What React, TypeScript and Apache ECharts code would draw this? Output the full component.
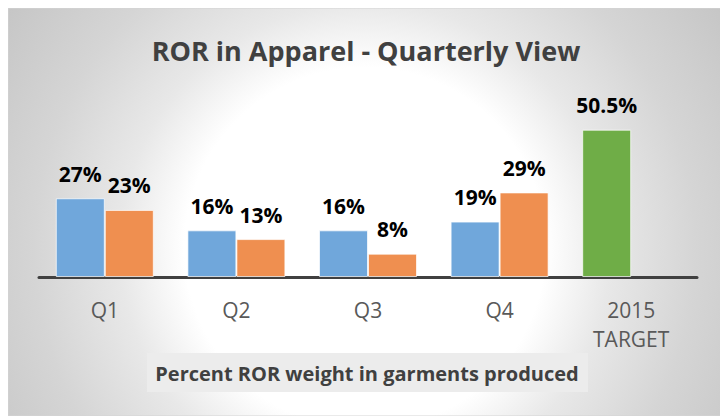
import React, { useEffect, useRef } from "react";
import * as echarts from "echarts";

const categories = ["Q1", "Q2", "Q3", "Q4", "2015\nTARGET"];
const seriesA = [27, 16, 16, 19, 50.5];
const seriesB = [23, 13, 8, 29, null];
const titleText = "ROR in Apparel - Quarterly View";
const subtitleText = "Percent ROR weight in garments produced";

const BLUE = "#70A7DB";
const ORANGE = "#EF8F50";
const GREEN = "#6FAD47";
const FONT = "'Open Sans', 'Noto Sans', sans-serif";

export default function App() {
  const ref = useRef<HTMLDivElement>(null);
  useEffect(() => {
    if (!ref.current) return;
    const chart = echarts.init(ref.current, undefined, { renderer: "svg" });
    const W = 715;
    const H = 408;
    const labelCfg = {
      show: true,
      position: "top",
      distance: 14,
      color: "#000",
      fontFamily: FONT,
      fontWeight: "bold",
      fontSize: 21,
      formatter: (p: any) => `${p.value}%`,
    };
    chart.setOption({
      animation: false,
      graphic: [
        {
          type: "rect",
          z: -10,
          silent: true,
          shape: { x: 0, y: 0, width: W, height: H },
          style: {
            fill: new echarts.graphic.RadialGradient(357, 240, 430, [
              { offset: 0, color: "#ffffff" },
              { offset: 0.42, color: "#ffffff" },
              { offset: 0.57, color: "#e8e8e8" },
              { offset: 0.77, color: "#d5d5d5" },
              { offset: 1, color: "#c6c6c6" },
            ], true),
            stroke: "#d4d4d4",
            lineWidth: 1,
          },
        },
        {
          type: "text",
          z: 10,
          x: 358,
          y: 42,
          style: {
            text: titleText,
            fill: "#404040",
            font: `bold 27px ${FONT}`,
            textAlign: "center",
            textVerticalAlign: "middle",
          },
        },
        {
          type: "rect",
          z: 5,
          shape: { x: 139, y: 345, width: 441, height: 39 },
          style: { fill: "#ECECEC" },
        },
        {
          type: "text",
          z: 10,
          x: 359,
          y: 365,
          style: {
            text: subtitleText,
            fill: "#404040",
            font: `bold 20px ${FONT}`,
            textAlign: "center",
            textVerticalAlign: "middle",
          },
        },
      ],
      grid: { left: 31, right: 26, top: 94, bottom: 139 },
      xAxis: {
        type: "category",
        data: categories,
        axisLine: { lineStyle: { color: "#404040", width: 3 } },
        axisTick: { show: false },
        axisLabel: {
          color: "#595959",
          fontFamily: FONT,
          fontSize: 21,
          lineHeight: 29,
          margin: 18,
        },
      },
      yAxis: {
        type: "value",
        min: 0,
        max: 60,
        show: false,
        splitLine: { show: false },
      },
      series: [
        {
          type: "bar",
          barWidth: 49,
          barGap: "0%",
          data: seriesA.map((v, i) =>
            i === seriesA.length - 1 ? { value: v, itemStyle: { color: GREEN } } : v
          ),
          itemStyle: { color: BLUE, borderColor: "rgba(255,255,255,0.7)", borderWidth: 1 },
          label: labelCfg,
        },
        {
          type: "bar",
          barWidth: 49,
          data: seriesB,
          itemStyle: { color: ORANGE, borderColor: "rgba(255,255,255,0.7)", borderWidth: 1 },
          label: labelCfg,
        },
      ],
    });
    return () => chart.dispose();
  }, []);
  return <div ref={ref} style={{ width: 715, height: 408 }} />;
}
